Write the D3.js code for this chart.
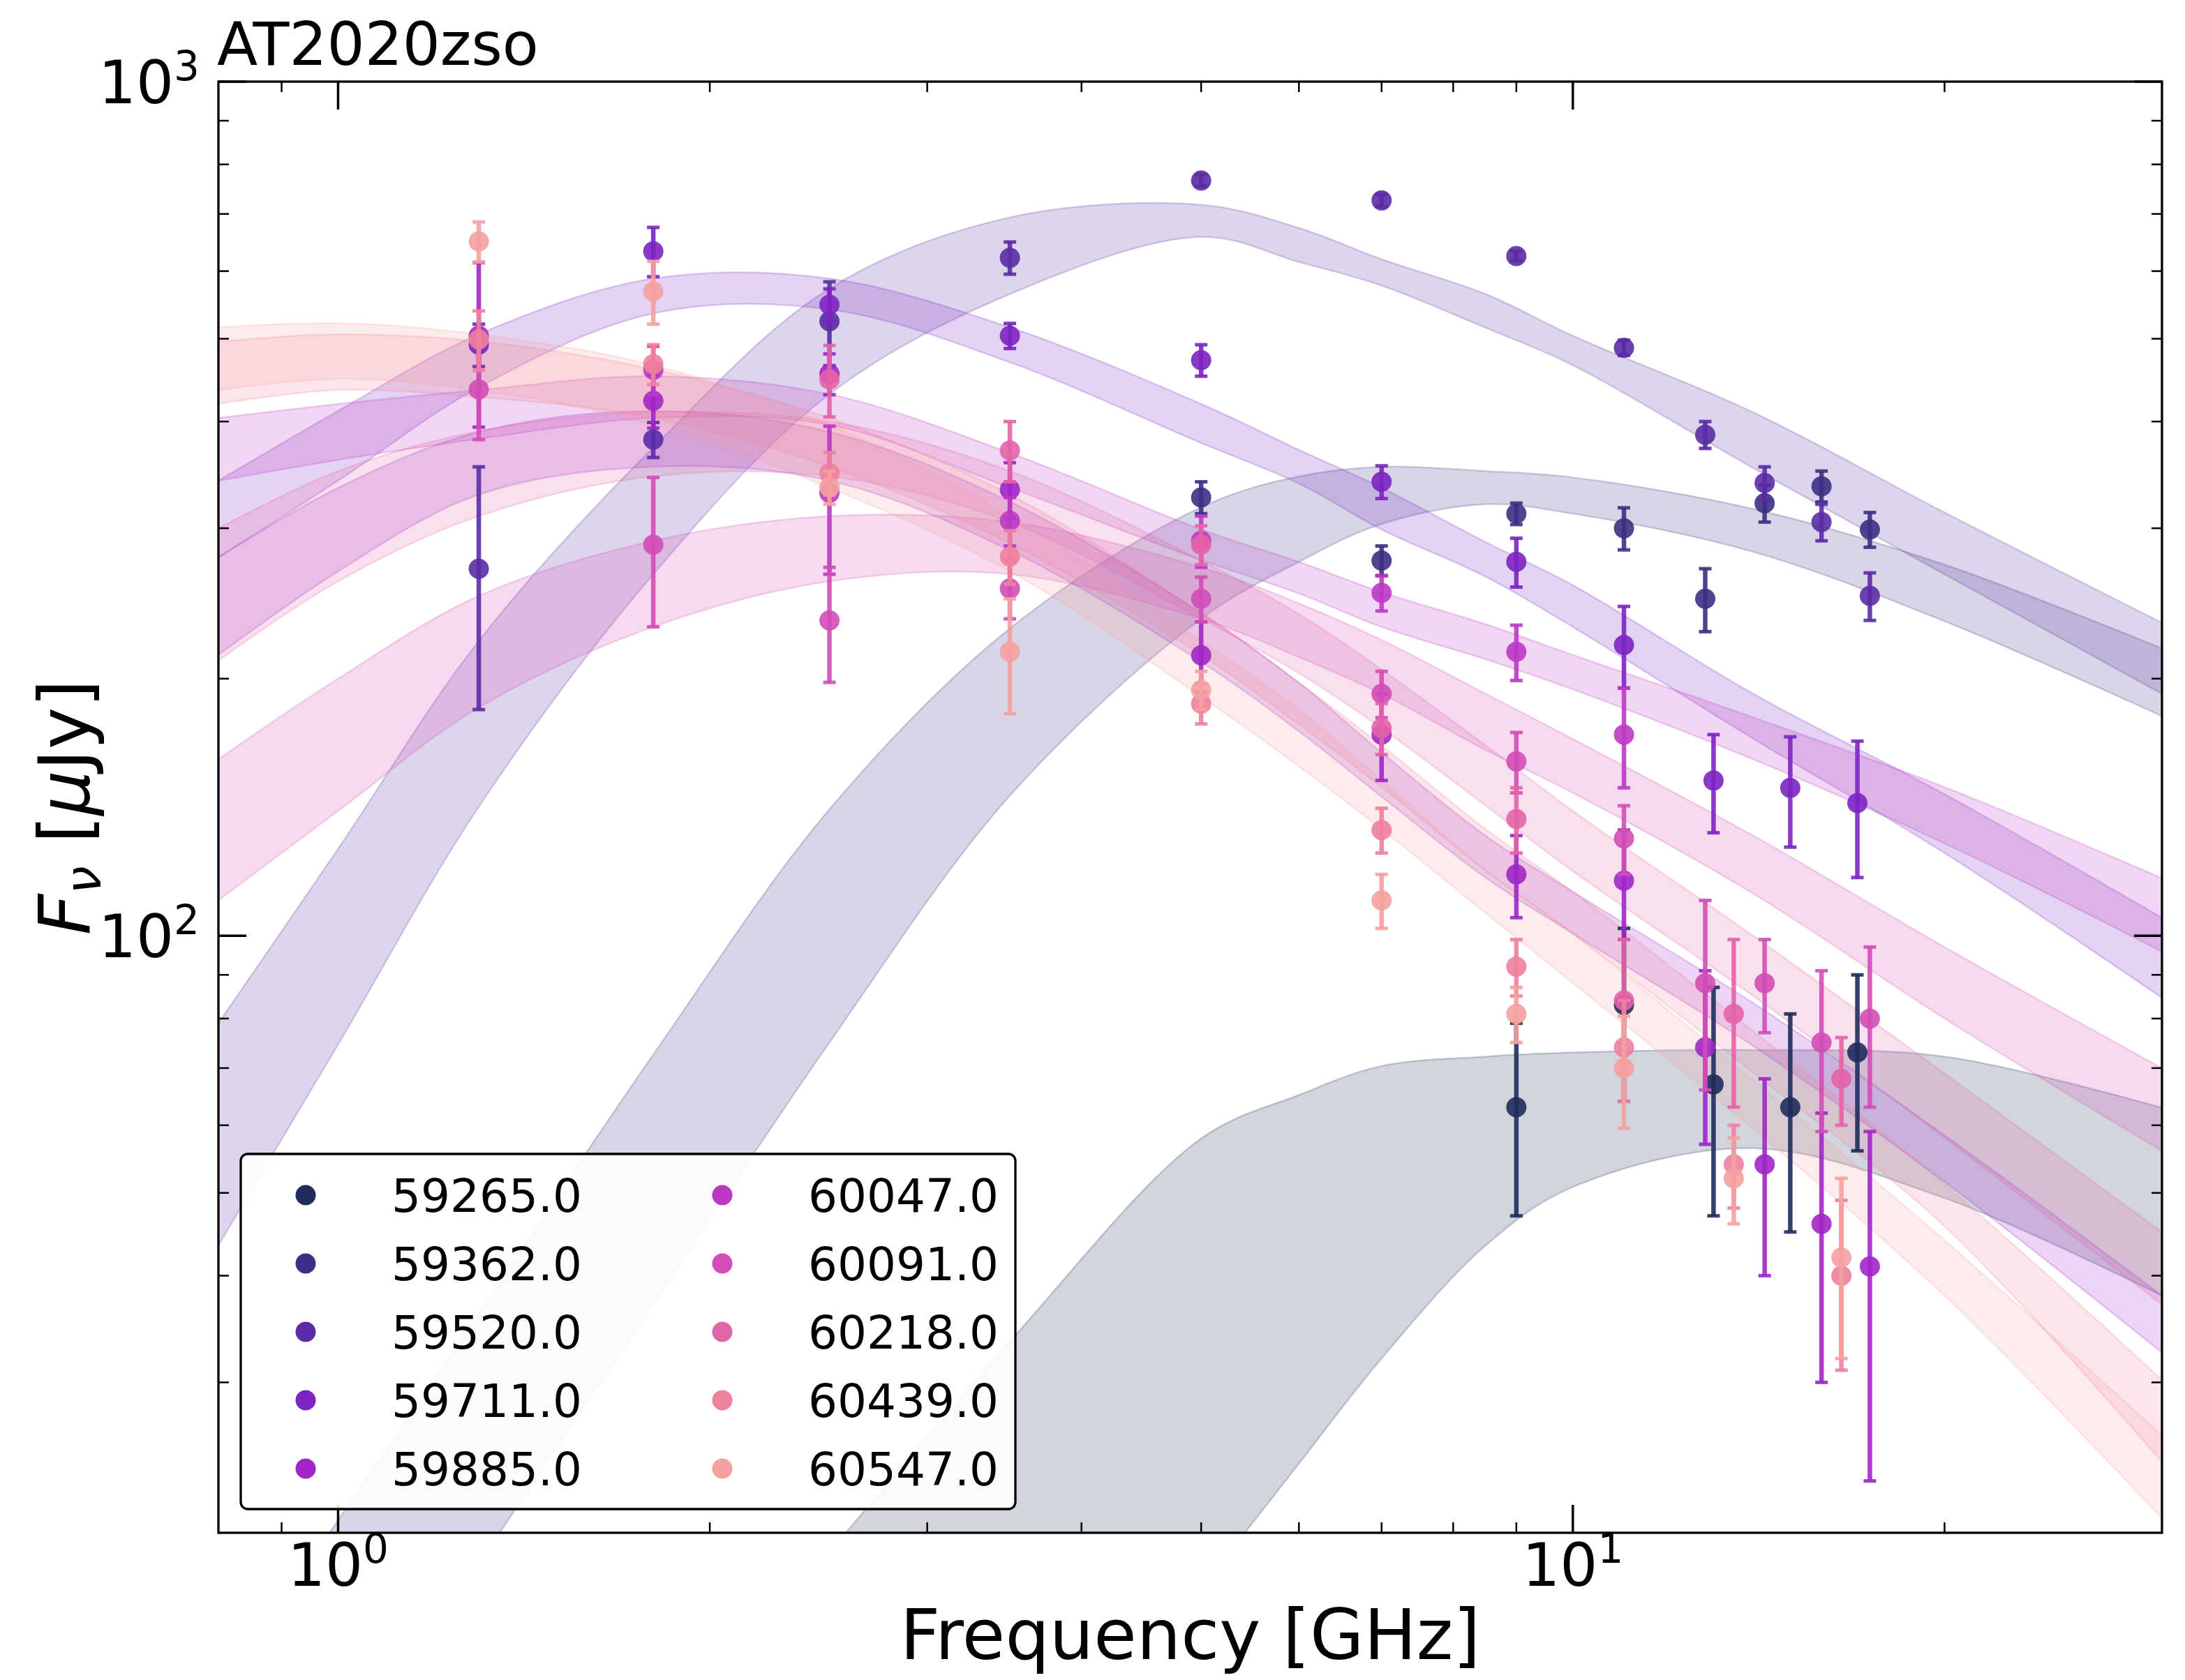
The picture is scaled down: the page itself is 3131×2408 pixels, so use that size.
<!DOCTYPE html>
<html>
<head>
<meta charset="utf-8">
<script src="https://cdn.jsdelivr.net/npm/d3@7"></script>
<style>
  html, body { margin: 0; padding: 0; background: #fff; }
  svg { display: block; font-family: "DejaVu Sans", sans-serif; }
</style>
</head>
<body>
<div id="chart"></div>
<script>

// epochs (MJD) and their colours
var epochs = ["59265.0", "59362.0", "59520.0", "59711.0", "59885.0", "60047.0", "60091.0", "60218.0", "60439.0", "60547.0"];
var colors = ["#1f2c5c", "#3b3083", "#5a2ca5", "#7c24c2", "#a026c8", "#bb38c4", "#d24db6", "#e363a8", "#ee819c", "#f5a0a0"];

// observations: [frequency GHz, flux uJy, error uJy]
var obs59265 = [[9.0, 63, 16], [11.0, 83, 19], [13.0, 67, 20], [15.0, 63, 18], [17.0, 73, 17]];
var obs59362 = [[5.0, 326, 14], [7.0, 275, 11], [9.0, 312, 9], [11.0, 300, 17], [12.8, 248, 21], [14.3, 321, 16], [15.9, 336, 14], [17.4, 299, 14]];
var obs59520 = [[1.3, 269, 85], [1.8, 381, 18], [2.5, 524, 59], [3.5, 622, 27], [5.0, 766, 12], [7.0, 726, 12], [9.0, 625, 8], [11.0, 488, 10], [12.8, 386, 14], [14.3, 339, 15], [15.9, 305, 15], [17.4, 250, 16]];
var obs59711 = [[1.3, 492, 28], [1.8, 633, 42], [2.5, 548, 24], [3.5, 504, 17], [5.0, 472, 20], [7.0, 340, 15], [9.0, 274, 18], [11.0, 219, 24], [13.0, 152, 20], [15.0, 149, 22], [17.0, 143, 26]];
var obs59885 = [[1.3, 504, 110], [1.8, 423, 30], [2.5, 455, 25], [3.5, 333, 25], [5.0, 213, 20], [7.0, 172, 20], [9.0, 118, 13], [11.0, 116, 17], [12.8, 74, 17], [14.3, 54, 14], [15.9, 46, 16], [17.4, 41, 18]];
var obs60047 = [[1.8, 460, 30], [2.5, 330, 65], [3.5, 306, 20], [5.0, 290, 20], [7.0, 252, 12], [9.0, 215, 16], [11.0, 172, 23]];
var obs60091 = [[1.3, 436, 55], [1.8, 287, 57], [2.5, 234, 36], [3.5, 255, 20], [5.0, 248, 15], [7.0, 192, 12], [9.0, 160, 13], [11.0, 130, 12], [12.8, 88, 22], [14.3, 88, 11], [15.9, 75, 16], [17.4, 80, 17]];
var obs60218 = [[2.5, 448, 43], [3.5, 370, 30], [5.0, 287, 15], [7.0, 175, 12], [9.0, 137, 12], [11.0, 84, 15], [13.5, 81, 18], [16.5, 68, 8]];
var obs60439 = [[1.3, 499, 40], [1.8, 467, 25], [2.5, 348, 20], [3.5, 278, 20], [5.0, 187, 10], [7.0, 133, 8], [9.0, 92, 7], [11.0, 74, 10], [13.5, 54, 6], [16.5, 40, 9]];
var obs60547 = [[1.3, 650, 35], [1.8, 568, 48], [2.5, 335, 15], [3.5, 215, 33], [5.0, 194, 10], [7.0, 110, 8], [9.0, 81, 6], [11.0, 70, 10.5], [13.5, 52, 6], [16.5, 42, 10]];

var observations = [obs59265, obs59362, obs59520, obs59711, obs59885, obs60047, obs60091, obs60218, obs60439, obs60547];

// model bands, on a common frequency grid (GHz)
var bandFreq = [0.8, 1.0, 1.3, 1.8, 2.5, 3.5, 5.0, 6.0, 7.0, 8.5, 10, 14, 20, 30];

var bandHi = [
	[2.8, 4.0, 6.3, 10.9, 19.0, 33.5, 57.9, 65.1, 70.4, 72.2, 73.0, 73.5, 72.2, 62.9],
	[12.8, 20.7, 36.2, 72.6, 140.6, 229, 317.5, 345, 354, 350, 344, 316, 272, 217],
	[79, 126.4, 221.4, 373, 572.6, 693.5, 717.5, 674, 619.6, 564, 504, 410, 313, 232.5],
	[341, 411.6, 506, 588, 588, 515.5, 419.4, 370.6, 334.6, 289, 257.3, 192, 146.5, 105],
	[277.3, 334.6, 389, 411.6, 389, 322.3, 238.7, 197.8, 163.9, 130.9, 112.6, 83.4, 58.4, 37.9],
	[403.9, 419.4, 435.4, 452, 430.5, 367.6, 299, 274, 252.5, 231.6, 213.2, 180.2, 149.3, 116.8],
	[161, 200, 250, 290, 310, 305, 270, 245, 222, 192, 170, 131, 97, 70],
	[300, 350, 390, 410, 400, 350, 275, 238, 205, 167, 140, 100, 69, 45],
	[496.5, 505.9, 496.5, 460.5, 403.9, 328.5, 238.7, 197.8, 167, 133.3, 112.6, 77.3, 51.2, 30.2],
	[515.5, 521.5, 505.9, 465.6, 396.4, 310.5, 221.4, 183.9, 152.1, 119.2, 100.6, 67.8, 44, 26]
];

var bandLo = [
	[0.58, 0.88, 1.43, 2.6, 4.8, 8.9, 17.2, 24.1, 32.0, 43.4, 50.8, 56.4, 49.3, 37.9],
	[6.5, 10.5, 18.4, 37.0, 75.0, 145.9, 235, 274, 303.5, 320, 312, 281.5, 233.5, 180.8],
	[43.4, 74.6, 141.6, 265, 430.6, 564, 658, 615, 577, 515, 465.5, 352.8, 265, 192],
	[277.3, 341, 438.6, 535.3, 541.2, 469.2, 377.5, 338.4, 299, 263.2, 229.9, 170.1, 125, 84.6],
	[213.2, 267.1, 328.5, 354.1, 341, 282.6, 209.2, 173.5, 145.5, 116.9, 100.6, 74.3, 51.5, 32.5],
	[341, 360.7, 381.8, 403.9, 396.4, 334.6, 275.3, 251.6, 229.9, 210.7, 194.3, 160.9, 128.3, 95.8],
	[110, 140, 185, 230, 260, 265, 235, 212, 192, 165, 147, 112, 80, 56],
	[210, 260, 310, 345, 345, 305, 235, 203, 175, 142, 119, 85, 58, 37],
	[419.4, 435.4, 427.4, 403.9, 354.1, 288, 213.2, 176.7, 149.3, 119.2, 100.6, 69.1, 45.7, 24.2],
	[435.4, 448.7, 435.4, 396.4, 334.6, 267.1, 190.5, 157.9, 133.3, 106.3, 88, 59.4, 37.9, 20.8]
];

// axis ticks
var xMajor = [1, 10];
var xMinor = [0.9, 2, 3, 4, 5, 6, 7, 8, 9, 20];
var yMajor = [100, 1000];
var yMinor = [30, 40, 50, 60, 70, 80, 90, 200, 300, 400, 500, 600, 700, 800, 900];

/* ********* layout ********* */

var W = 3131, H = 2408;
var margin = {top: 117, right: 33, bottom: 211, left: 313},
    width = W - margin.left - margin.right,
    height = H - margin.top - margin.bottom;

var svg = d3.select("#chart")
	.append("svg")
	.attr("width", W)
	.attr("height", H);

var g = svg.append("g")
	.attr("transform", "translate(" + margin.left + "," + margin.top + ")");

var x = d3.scaleLog().domain([0.8, 30]).range([0, width]);
var y = d3.scaleLog().domain([20, 1000]).range([height, 0]);

g.append("clipPath")
	.attr("id", "plotclip")
	.append("rect")
	.attr("width", width)
	.attr("height", height);

var plot = g.append("g").attr("clip-path", "url(#plotclip)");

/* ********* model bands ********* */

var curve = d3.curveCatmullRom.alpha(0.5);

var area = d3.area()
	.x(d => x(d.f))
	.y0(d => y(d.lo))
	.y1(d => y(d.hi))
	.curve(curve);

var edge = d3.line()
	.x(d => x(d[0]))
	.y(d => y(d[1]))
	.curve(curve);

epochs.forEach(function(ep, i) {

	var rows = bandFreq.map((f, j) => ({ f: f, lo: bandLo[i][j], hi: bandHi[i][j] }));

	plot.append("path")
		.datum(rows)
		.attr("d", area)
		.style("fill", colors[i])
		.style("fill-opacity", 0.2)
		.style("stroke", "none");

	[bandHi[i], bandLo[i]].forEach(function(vals) {
		plot.append("path")
			.datum(bandFreq.map((f, j) => [f, vals[j]]))
			.attr("d", edge)
			.style("fill", "none")
			.style("stroke", colors[i])
			.style("stroke-opacity", 0.22)
			.style("stroke-width", 2.5);
	});
});

/* ********* data points with error bars ********* */

var capHalf = 9;

epochs.forEach(function(ep, i) {

	var grp = plot.append("g").attr("class", "epoch");

	observations[i].forEach(function(d) {

		var cx = x(d[0]);
		var top = y(d[1] + d[2]),
			bot = y(Math.max(d[1] - d[2], 0.1));

		grp.append("line")
			.attr("x1", cx).attr("x2", cx)
			.attr("y1", top).attr("y2", bot)
			.style("stroke", colors[i])
			.style("stroke-opacity", 0.9)
			.style("stroke-width", 6.5);

		[top, bot].forEach(function(cy) {
			grp.append("line")
				.attr("x1", cx - capHalf).attr("x2", cx + capHalf)
				.attr("y1", cy).attr("y2", cy)
				.style("stroke", colors[i])
				.style("stroke-opacity", 0.9)
				.style("stroke-width", 5);
		});

		grp.append("circle")
			.attr("cx", cx)
			.attr("cy", y(d[1]))
			.attr("r", 14.5)
			.style("fill", colors[i])
			.style("fill-opacity", 0.9);
	});
});

/* ********* axes ********* */

var axes = g.append("g").attr("class", "axes");

function ticks(vals, len, sw) {
	vals.forEach(function(v) {
		var px = x(v);
		axes.append("line").attr("x1", px).attr("x2", px).attr("y1", height).attr("y2", height - len)
			.style("stroke", "#000").style("stroke-width", sw);
		axes.append("line").attr("x1", px).attr("x2", px).attr("y1", 0).attr("y2", len)
			.style("stroke", "#000").style("stroke-width", sw);
	});
}

function yticks(vals, len, sw) {
	vals.forEach(function(v) {
		var py = y(v);
		axes.append("line").attr("x1", 0).attr("x2", len).attr("y1", py).attr("y2", py)
			.style("stroke", "#000").style("stroke-width", sw);
		axes.append("line").attr("x1", width).attr("x2", width - len).attr("y1", py).attr("y2", py)
			.style("stroke", "#000").style("stroke-width", sw);
	});
}

ticks(xMajor, 40, 3.5);
ticks(xMinor, 15, 2.5);
yticks(yMajor, 40, 3.5);
yticks(yMinor, 15, 2.5);

axes.append("rect")
	.attr("width", width)
	.attr("height", height)
	.style("fill", "none")
	.style("stroke", "#000")
	.style("stroke-width", 3.3);

// tick labels as 10^n
xMajor.forEach(function(v) {
	var t = axes.append("text")
		.attr("x", x(v))
		.attr("y", height + 76)
		.attr("text-anchor", "middle")
		.style("font-size", "85px");
	t.append("tspan").text("10");
	t.append("tspan").attr("dy", -33).style("font-size", "58px").text(String(Math.round(Math.log10(v))));
});

yMajor.forEach(function(v) {
	var t = axes.append("text")
		.attr("x", -27)
		.attr("y", y(v) + 31)
		.attr("text-anchor", "end")
		.style("font-size", "85px");
	t.append("tspan").text("10");
	t.append("tspan").attr("dy", -33).style("font-size", "58px").text(String(Math.round(Math.log10(v))));
});

// axis labels and title
svg.append("text")
	.attr("x", margin.left + width / 2)
	.attr("y", 2378)
	.attr("text-anchor", "middle")
	.style("font-size", "100px")
	.text("Frequency [GHz]");

var ylab = svg.append("text")
	.attr("transform", "translate(128," + (margin.top + height / 2) + ") rotate(-90)")
	.attr("text-anchor", "middle")
	.style("font-size", "102px");
ylab.append("tspan").style("font-style", "italic").text("F");
ylab.append("tspan").style("font-style", "italic").style("font-size", "72px").attr("dy", 16).text("ν");
ylab.append("tspan").attr("dy", -16).text(" [");
ylab.append("tspan").style("font-style", "italic").text("μ");
ylab.append("tspan").text("Jy]");

svg.append("text")
	.attr("x", 311)
	.attr("y", 93)
	.style("font-size", "85px")
	.text("AT2020zso");

/* ********* legend ********* */

var legend = svg.append("g").attr("class", "legend");

legend.append("rect")
	.attr("x", 345)
	.attr("y", 1654)
	.attr("width", 1110)
	.attr("height", 509)
	.attr("rx", 10)
	.style("fill", "#fff")
	.style("fill-opacity", 0.9)
	.style("stroke", "#000")
	.style("stroke-width", 3.3);

epochs.forEach(function(ep, i) {
	var col = Math.floor(i / 5),
		row = i % 5;
	var mx = 438 + col * 597,
		my = 1713 + row * 98;

	legend.append("circle")
		.attr("cx", mx)
		.attr("cy", my)
		.attr("r", 14.5)
		.style("fill", colors[i]);

	legend.append("text")
		.attr("x", mx + 123)
		.attr("y", my + 24)
		.style("font-size", "66px")
		.text(ep);
});

</script>
</body>
</html>
